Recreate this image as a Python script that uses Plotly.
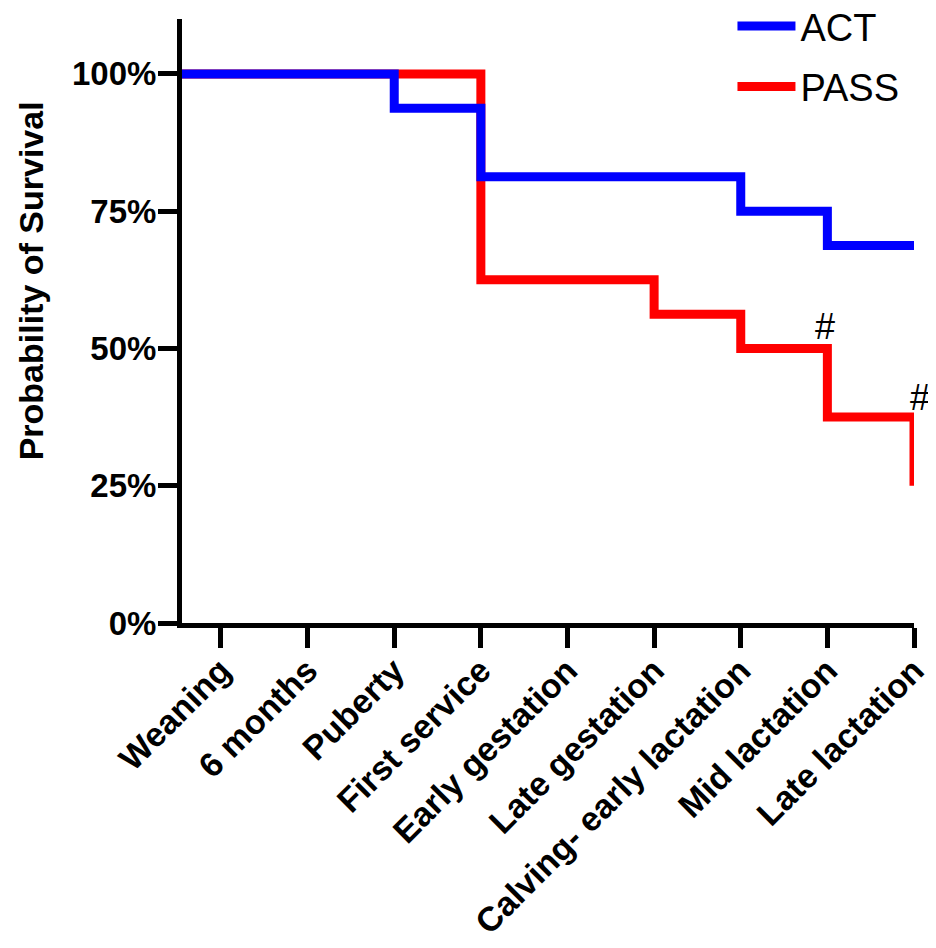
import plotly.graph_objects as go

# ---- data ----
stages = ["Weaning", "6 months", "Puberty", "First service", "Early gestation",
          "Late gestation", "Calving- early lactation", "Mid lactation", "Late lactation"]
act_survival = [100, 100, 93.75, 81.25, 81.25, 81.25, 75, 68.75, 68.75]
pass_survival = [100, 100, 100, 62.5, 62.5, 56.25, 50, 37.5, 25]
origin = -0.45          # time zero, at the left end of the x axis
y_ticks = [0, 25, 50, 75, 100]
y_tick_labels = ["0%", "25%", "50%", "75%", "100%"]
hash_stages = [7, 8]    # stages with "#" marks (PASS)

x_pos = [origin] + list(range(len(stages)))

fig = go.Figure()
fig.add_trace(go.Scatter(
    x=x_pos, y=[100] + pass_survival, mode="lines", name="PASS",
    line=dict(color="#FF0000", width=9, shape="hv"), legendgroup="b", legendrank=2))
fig.add_trace(go.Scatter(
    x=x_pos, y=[100] + act_survival, mode="lines", name="ACT",
    line=dict(color="#0000FF", width=9, shape="hv"), legendgroup="a", legendrank=1))

shifts = {7: (-2, 22), 8: (6, 20)}
for i in hash_stages:
    fig.add_annotation(x=i, y=pass_survival[i - 1], text="#", showarrow=False,
                       xshift=shifts[i][0], yshift=shifts[i][1],
                       font=dict(family="Liberation Sans, Arial", size=36, color="black"))

fig.add_annotation(xref="paper", yref="paper", x=-0.206, y=0.566, text="<b>Probability of Survival</b>",
                   textangle=-90, showarrow=False, xanchor="center", yanchor="middle",
                   font=dict(family="Liberation Sans, Arial", size=34, color="black"))

# the page body has an 8px margin, so the figure is 8px smaller and margins are 8px less
fig.update_layout(
    width=928, height=940,
    margin=dict(l=174, r=22, t=11, b=325, autoexpand=False),
    plot_bgcolor="white", paper_bgcolor="white",
    showlegend=True,
    legend=dict(x=0.752, y=1.04, xanchor="left", yanchor="top",
                font=dict(family="Liberation Sans, Arial", size=38, color="black"),
                tracegroupgap=8, itemwidth=58, bgcolor="rgba(0,0,0,0)"),
    xaxis=dict(range=[origin, 8.0], tickmode="array", tickvals=list(range(len(stages))),
               ticktext=stages, tickangle=-45, showgrid=False, zeroline=False,
               showline=True, linecolor="black", linewidth=5, automargin=False,
               ticks="outside", ticklen=20, tickwidth=5, tickcolor="black",
               ticklabelstandoff=-11,
               tickfont=dict(family="Liberation Sans, Arial", size=34, color="black", weight="bold")),
    yaxis=dict(range=[0, 110], tickmode="array", tickvals=y_ticks, ticktext=y_tick_labels,
               showgrid=False, zeroline=False, showline=True, linecolor="black", linewidth=5,
               automargin=False, ticklabelstandoff=-5,
               ticks="outside", ticklen=19, tickwidth=5, tickcolor="black",
               tickfont=dict(family="Liberation Sans, Arial", size=33, color="black", weight="bold")),
)

fig.write_html("out.html")
